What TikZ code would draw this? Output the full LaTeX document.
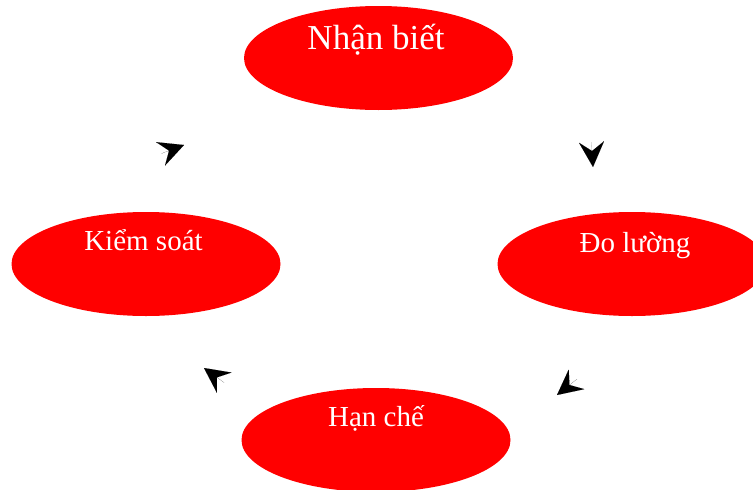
\documentclass[tikz,border=0pt]{standalone}
\usepackage{fontspec}
\setmainfont{Liberation Serif}
\usetikzlibrary{shapes.geometric,arrows.meta}
\begin{document}
\begin{tikzpicture}[x=1pt,y=-1pt,
  ell/.style={ellipse, fill=red, draw=none, minimum width=269pt, minimum height=104pt, inner sep=0pt},
  lbl/.style={text=white, anchor=base, inner sep=0pt, font=\fontsize{29}{34}\selectfont},
  bigl/.style={lbl, font=\fontsize{35}{40}\selectfont},
  tipstyle/.style={line width=0.01pt, -{Stealth[length=25pt,width=25pt,inset=9pt]}}]
\useasboundingbox (0,0) rectangle (753,490);
% ellipses
\node[ell] (nb) at (378.5,58) {};
\node[ell] (dl) at (632,264) {};
\node[ell] (hc) at (376,440) {};
\node[ell] (ks) at (146,264) {};
% labels
\node[bigl] (nbt) at (376,49) {Nhận biết};
\node[lbl] (dlt) at (635,252) {Đo lường};
\node[lbl] (hct) at (376,426) {Hạn chế};
\node[lbl] (kst) at (143.5,250) {Kiểm soát};
% arrowheads
\coordinate (a1t) at (161.5,153.5); \coordinate (a1h) at (184,145);
\coordinate (a2t) at (591.5,142);   \coordinate (a2h) at (593,167);
\coordinate (a3t) at (577,379);     \coordinate (a3h) at (557,395);
\coordinate (a4t) at (224,382.5);   \coordinate (a4h) at (204,368);
\draw[tipstyle] (a1t) -- (a1h);
\draw[tipstyle] (a2t) -- (a2h);
\draw[tipstyle] (a3t) -- (a3h);
\draw[tipstyle] (a4t) -- (a4h);
\end{tikzpicture}
\end{document}
